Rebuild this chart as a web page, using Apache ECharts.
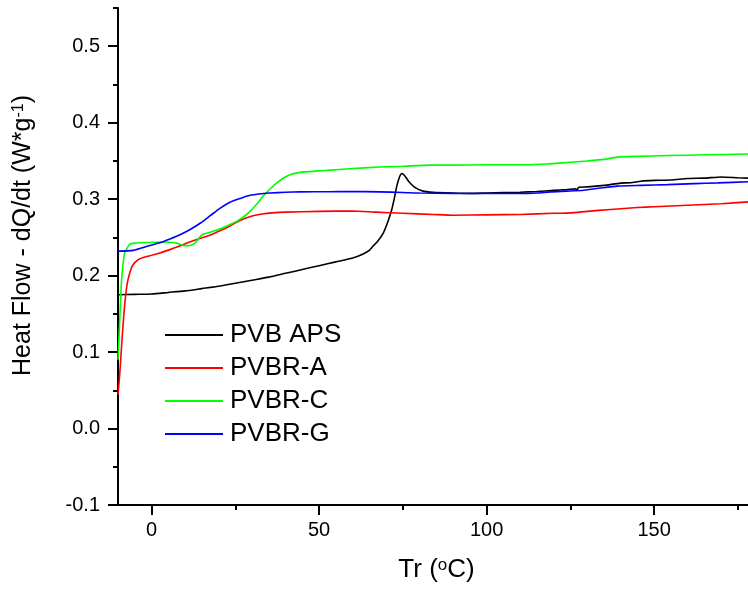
<!DOCTYPE html>
<html>
<head>
<meta charset="utf-8">
<script src="https://cdn.jsdelivr.net/npm/echarts@6/dist/echarts.min.js"></script>
<style>
  html, body { margin: 0; padding: 0; background: #fff; }
  #chart { width: 748px; height: 590px; }
</style>
</head>
<body>
<div id="chart"></div>
<script>
// ---- Data ----
const seriesNames = ['PVB APS', 'PVBR-A', 'PVBR-C', 'PVBR-G'];

const apsX = [-10, -5, 0, 5, 10, 15, 20, 25, 30, 35, 40, 45, 50, 55, 60, 63, 65, 66, 67.5, 69.2, 70.5, 71.7, 72.5, 73.2, 74, 74.7, 75.5, 76.7, 78.7, 81, 84, 90, 95, 100, 105, 110, 115, 120, 124, 126.5, 127, 127.5, 130, 135, 140, 143, 146, 150, 155, 160, 165, 170, 175, 178];
const apsY = [0.175, 0.1755, 0.176, 0.178, 0.180, 0.183, 0.186, 0.190, 0.194, 0.198, 0.203, 0.208, 0.213, 0.218, 0.223, 0.228, 0.233, 0.238, 0.245, 0.256, 0.270, 0.2865, 0.302, 0.317, 0.329, 0.3335, 0.331, 0.3235, 0.315, 0.3105, 0.309, 0.308, 0.3075, 0.308, 0.3085, 0.309, 0.310, 0.3115, 0.3125, 0.3135, 0.3125, 0.3155, 0.316, 0.318, 0.321, 0.3215, 0.3235, 0.3245, 0.325, 0.327, 0.3275, 0.329, 0.328, 0.3275];

const rAX = [-10, -9.5, -9, -8.5, -8, -7.5, -7, -6, -5, -3.5, -0.5, 2, 5.5, 8, 11.4, 14, 17, 20, 23, 25.5, 28, 30, 33, 36, 40, 50, 60, 67, 75, 84, 90, 100, 110, 120, 125, 130, 137, 145, 150, 160, 170, 178];
const rAY = [0.044, 0.07, 0.103, 0.135, 0.162, 0.182, 0.195, 0.210, 0.217, 0.222, 0.226, 0.229, 0.234, 0.238, 0.244, 0.248, 0.252, 0.258, 0.264, 0.270, 0.275, 0.278, 0.2805, 0.282, 0.283, 0.284, 0.2845, 0.283, 0.2815, 0.280, 0.279, 0.2795, 0.280, 0.2815, 0.282, 0.284, 0.2865, 0.289, 0.290, 0.292, 0.294, 0.2965];

const rCX = [-10, -9.5, -9, -8.5, -8, -7, -6.5, -5, -3.5, 0, 3, 5.5, 7.5, 9.4, 11, 12.5, 13.5, 14.5, 15.5, 17, 19, 21, 23, 25.4, 27.5, 29.4, 31.5, 33.3, 35.3, 37.3, 39.5, 41.3, 44.3, 50, 53.3, 59, 68, 75, 83, 90, 100, 111, 118, 124, 130, 135, 139, 145, 154, 165, 178];
const rCY = [0.09, 0.14, 0.19, 0.215, 0.23, 0.238, 0.241, 0.2425, 0.243, 0.2435, 0.244, 0.2437, 0.2425, 0.2395, 0.2392, 0.241, 0.245, 0.251, 0.2545, 0.256, 0.259, 0.262, 0.266, 0.271, 0.277, 0.284, 0.294, 0.304, 0.313, 0.321, 0.328, 0.332, 0.335, 0.337, 0.338, 0.3397, 0.342, 0.343, 0.3445, 0.3445, 0.345, 0.345, 0.346, 0.348, 0.350, 0.352, 0.355, 0.356, 0.357, 0.358, 0.359];

const rGX = [-10, -5.5, -0.5, 2.5, 5.5, 8.5, 11.4, 14.5, 17.4, 20.4, 23.4, 26.5, 29.4, 32, 35.3, 40, 44.3, 53, 59, 68, 75, 80, 90, 98, 110, 115, 119, 124, 129, 134, 139, 146, 154, 162, 169, 178];
const rGY = [0.232, 0.233, 0.2395, 0.243, 0.248, 0.2535, 0.260, 0.2685, 0.278, 0.288, 0.296, 0.301, 0.305, 0.3068, 0.308, 0.309, 0.3095, 0.3097, 0.310, 0.3095, 0.3088, 0.308, 0.3075, 0.3073, 0.3073, 0.308, 0.3095, 0.3105, 0.3117, 0.3145, 0.317, 0.318, 0.319, 0.3203, 0.3213, 0.3227];

const xMajorTicks = [0, 50, 100, 150];
const xMinorTicks = [25, 75, 125, 175];
const yMajorTicks = [-0.1, 0, 0.1, 0.2, 0.3, 0.4, 0.5];
const yMinorTicks = [-0.05, 0.05, 0.15, 0.25, 0.35, 0.45, 0.55];

const seriesX = [apsX, rAX, rCX, rGX];
const seriesY = [apsY, rAY, rCY, rGY];
const seriesColors = ['#000000', '#ff0000', '#00ff00', '#0000ff'];

// ---- Chart ----
const FONT = '"Liberation Sans", Arial, sans-serif';
const X_MIN = -10, X_MAX = 178, Y_MIN = -0.1, Y_MAX = 0.55;
const gridRect = { left: 118, top: 8, right: 0, bottom: 85, containLabel: false, outerBoundsMode: 'none' };

const chart = echarts.init(document.getElementById('chart'), null, { renderer: 'canvas' });

const option = {
  backgroundColor: '#ffffff',
  animation: false,
  grid: [Object.assign({}, gridRect), Object.assign({}, gridRect)],
  legend: {
    show: true,
    orient: 'vertical',
    left: 165,
    top: 322,
    padding: 0,
    icon: 'rect',
    itemWidth: 58,
    itemHeight: 2,
    itemGap: 7,
    data: seriesNames,
    textStyle: { fontFamily: FONT, fontSize: 26, color: '#000', lineHeight: 25, padding: [0, 0, 0, 2] }
  },
  xAxis: [{
    type: 'value', gridIndex: 0, min: X_MIN, max: X_MAX,
    splitLine: { show: false },
    axisLine: { show: true, onZero: false, lineStyle: { color: '#000', width: 2 } },
    axisTick: { show: true, inside: false, length: 10, customValues: xMajorTicks, lineStyle: { color: '#000', width: 2 } },
    axisLabel: { show: true, customValues: xMajorTicks, margin: 15, fontFamily: FONT, fontSize: 20, color: '#000' },
    name: 'Tr ({sup|o}C)',
    nameLocation: 'middle',
    nameGap: 52,
    nameTextStyle: {
      fontFamily: FONT, fontSize: 26, color: '#000', padding: [0, 0, 0, 7],
      rich: { sup: { fontFamily: FONT, fontSize: 17, color: '#000', verticalAlign: 'top', padding: [0, 0, 8, 0] } }
    }
  }, {
    type: 'value', gridIndex: 1, min: X_MIN, max: X_MAX,
    splitLine: { show: false },
    axisLine: { show: false, onZero: false },
    axisTick: { show: true, inside: false, length: 5, customValues: xMinorTicks, lineStyle: { color: '#000', width: 2 } },
    axisLabel: { show: false }
  }],
  yAxis: [{
    type: 'value', gridIndex: 0, min: Y_MIN, max: Y_MAX,
    splitLine: { show: false },
    axisLine: { show: true, onZero: false, lineStyle: { color: '#000', width: 2 } },
    axisTick: { show: true, inside: false, length: 10, customValues: yMajorTicks, lineStyle: { color: '#000', width: 2 } },
    axisLabel: {
      show: true, customValues: yMajorTicks, margin: 18, fontFamily: FONT, fontSize: 20, color: '#000',
      formatter: v => Number(v).toFixed(1)
    },
    name: 'Heat Flow - dQ/dt (W*g{sup|-1})',
    nameLocation: 'middle',
    nameRotate: 90,
    nameGap: 82,
    nameTextStyle: {
      fontFamily: FONT, fontSize: 25, color: '#000', padding: [0, 0, 0, 42],
      rich: { sup: { fontFamily: FONT, fontSize: 16, color: '#000', verticalAlign: 'top', padding: [0, 0, 8, 0] } }
    }
  }, {
    type: 'value', gridIndex: 1, min: Y_MIN, max: Y_MAX,
    splitLine: { show: false },
    axisLine: { show: false, onZero: false },
    axisTick: { show: true, inside: false, length: 5, customValues: yMinorTicks, lineStyle: { color: '#000', width: 2 } },
    axisLabel: { show: false }
  }],
  series: seriesNames.map((name, i) => ({
    name: name,
    type: 'line',
    xAxisIndex: 0,
    yAxisIndex: 0,
    symbol: 'none',
    showSymbol: false,
    smooth: 0.2,
    clip: true,
    color: seriesColors[i],
    itemStyle: { color: seriesColors[i] },
    lineStyle: { color: seriesColors[i], width: 1.6 },
    data: seriesX[i].map((x, j) => [x, seriesY[i][j]])
  }))
};

chart.setOption(option);
</script>
</body>
</html>
